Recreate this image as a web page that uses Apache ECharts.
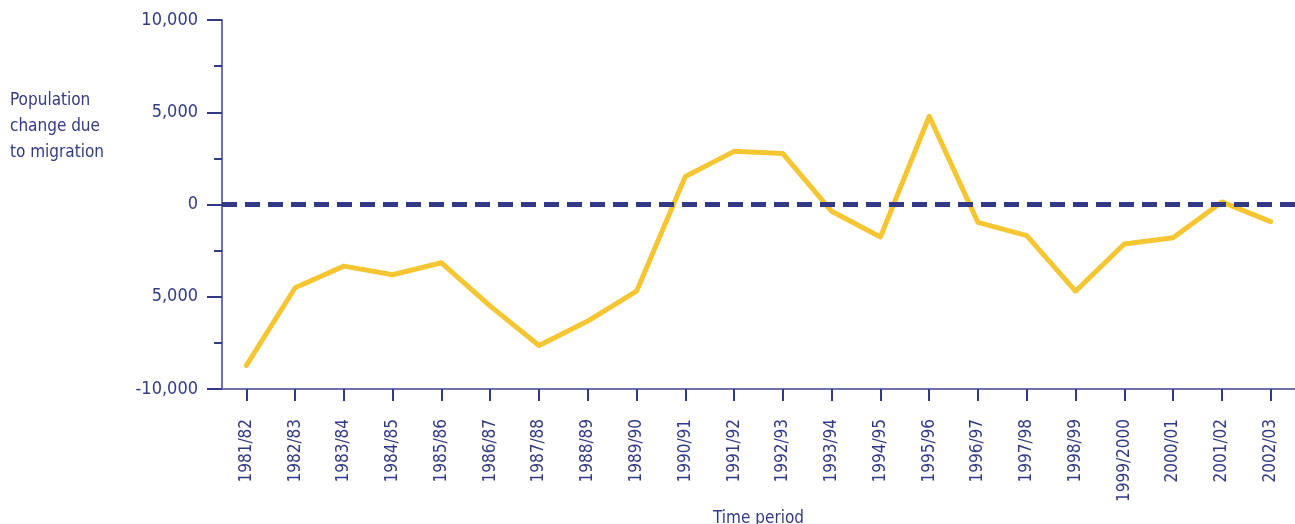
<!DOCTYPE html>
<html>
<head>
<meta charset="utf-8">
<script src="https://cdn.jsdelivr.net/npm/echarts@6/dist/echarts.min.js"></script>
<style>
  html, body { margin: 0; padding: 0; background: #fff; }
  #chart { width: 1295px; height: 524px; }
</style>
</head>
<body>
<div id="chart"></div>
<script>
const periods = ['1981/82', '1982/83', '1983/84', '1984/85', '1985/86', '1986/87', '1987/88', '1988/89', '1989/90', '1990/91', '1991/92',
  '1992/93', '1993/94', '1994/95', '1995/96', '1996/97', '1997/98', '1998/99', '1999/2000', '2000/01', '2001/02', '2002/03'];
const migration = [-8720, -4510, -3340, -3810, -3160, -5510, -7640, -6320, -4700, 1520, 2880,
  2760, -370, -1760, 4780, -970, -1690, -4700, -2140, -1800, 140, -930];
// tick labels as printed in the source (the -5,000 one has no minus sign)
const yTickLabels = { '10000': '10,000', '5000': '5,000', '0': '0', '-5000': '5,000', '-10000': '-10,000' };

const navy = '#333a85';
const axisColor = '#6e71ad';
const fontFam = '"Liberation Sans Narrow", "DejaVu Sans Condensed", "Roboto", sans-serif';

const chart = echarts.init(document.getElementById('chart'));
chart.setOption({
  backgroundColor: '#fff',
  animation: false,
  textStyle: { fontFamily: fontFam },
  grid: { left: 222, right: 0, top: 20, bottom: 135, containLabel: false, outerBoundsMode: 'none' },
  graphic: [{
    type: 'text',
    left: 10,
    top: 88,
    style: {
      text: 'Population\nchange due\nto migration',
      fill: navy,
      font: '17px ' + fontFam,
      lineHeight: 26
    }
  }],
  xAxis: {
    type: 'category',
    data: periods,
    boundaryGap: true,
    name: 'Time period',
    nameLocation: 'middle',
    nameGap: 118,
    nameTextStyle: { color: navy, fontSize: 17, fontFamily: fontFam },
    axisLine: { onZero: false, lineStyle: { color: axisColor, width: 2 } },
    axisTick: { show: true, interval: 0, alignWithLabel: true, length: 12, lineStyle: { color: navy, width: 2 } },
    axisLabel: { rotate: 90, margin: 30, color: navy, fontSize: 17, fontFamily: fontFam, interval: 0 },
    splitLine: { show: false }
  },
  yAxis: {
    type: 'value',
    min: -10000,
    max: 10000,
    interval: 5000,
    axisLine: { show: true, lineStyle: { color: axisColor, width: 2 } },
    axisTick: { show: true, length: 15, lineStyle: { color: navy, width: 2 } },
    minorTick: { show: true, splitNumber: 2, length: 8, lineStyle: { color: navy, width: 2 } },
    axisLabel: {
      margin: 24,
      color: navy,
      fontSize: 18,
      fontFamily: fontFam,
      formatter: v => yTickLabels[String(v)]
    },
    splitLine: { show: false }
  },
  series: [{
    type: 'line',
    data: migration,
    symbol: 'none',
    lineStyle: { color: '#f5c532', width: 5, cap: 'round', join: 'round' },
    markLine: {
      silent: true,
      symbol: 'none',
      label: { show: false },
      lineStyle: { color: navy, width: 5, type: [15, 8], cap: 'butt' },
      data: [{ yAxis: 0 }]
    }
  }]
});
</script>
</body>
</html>
